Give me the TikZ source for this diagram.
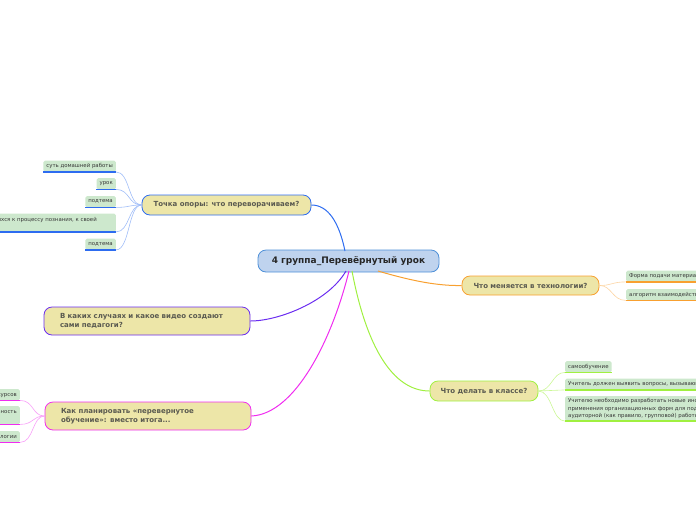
\documentclass[tikz,border=0pt]{standalone}
\usepackage{fontspec}
\setmainfont{DejaVu Sans}
\definecolor{rootf}{HTML}{BFD3EE}
\definecolor{rootb}{HTML}{4E90D8}
\definecolor{brf}{HTML}{EDE6A8}
\definecolor{brt}{HTML}{5A5A50}
\definecolor{leaff}{HTML}{CDE8CD}
\definecolor{cblue}{HTML}{2D6CF0}
\definecolor{cviolet}{HTML}{6A2CF0}
\definecolor{cmag}{HTML}{F02CF0}
\definecolor{corange}{HTML}{F8A030}
\definecolor{cgreen}{HTML}{A0F040}
\begin{document}
\begin{tikzpicture}[x=1pt,y=-1pt,
  root/.style={draw=rootb, fill=rootf, line width=0.8pt, rounded corners=8pt,
    minimum width=181pt, minimum height=22pt, inner sep=0pt,
    font=\fontsize{9}{10}\selectfont\bfseries, text=black!85},
  branch/.style={fill=brf, line width=0.8pt, rounded corners=8pt, inner sep=0pt,
    font=\fontsize{7}{9}\selectfont\bfseries, text=brt},
  leaf/.style={fill=leaff, rounded corners=1.5pt, font=\fontsize{5.4}{7.2}\selectfont,
    text=black!78, inner xsep=3pt, inner ysep=2.5pt, minimum height=11pt, align=left},
  uline/.style={line width=1.6pt},
  twig/.style={line width=0.6pt},
  limb/.style={line width=1pt}
]
\useasboundingbox (0,0) rectangle (696,520);
\clip (0,0) rectangle (696,520);

% root
\node[root] (c) at (348.5,261) {4 группа\_Перевёрнутый урок};

% branches
\node[branch, draw=cblue, minimum width=169pt, minimum height=20pt] (t) at (226.5,205) {Точка опоры: что переворачиваем?};
\node[branch, draw=cviolet, text width=174pt, inner xsep=16pt, minimum height=28pt, align=left] (v) at (147,321) {В каких случаях и какое видео создают\\сами педагоги?};
\node[branch, draw=cmag, text width=174pt, inner xsep=16pt, minimum height=28pt, align=left] (k) at (148,416) {Как планировать «перевернутое\\обучение»: вместо итога...};
\node[branch, draw=corange, minimum width=137pt, minimum height=19pt] (m) at (530.5,285.5) {Что меняется в технологии?};
\node[branch, draw=cgreen, minimum width=108pt, minimum height=20pt] (d) at (484,391) {Что делать в классе?};

% root connectors
\coordinate (s1) at (345,251);
\coordinate (s2) at (346,271);
\coordinate (s3) at (349,271);
\coordinate (s4) at (352,271);
\coordinate (s5) at (378,271);
\draw[limb, cblue] (s1) .. controls (339,222) and (328,205) .. (t.east);
\draw[limb, cviolet] (s2) .. controls (328,302) and (278,321) .. (v.east);
\draw[limb, cmag] (s3) .. controls (332,340) and (295,414) .. (k.east);
\draw[limb, cgreen] (s4) .. controls (366,345) and (392,391) .. (d.west);
\draw[limb, corange] (s5) .. controls (412,281) and (438,286) .. (m.west);

% left leaves of t
\node[leaf, anchor=north east] (t1) at (116,160.5) {суть домашней работы};
\node[leaf, anchor=north east] (t2) at (116,178) {урок};
\node[leaf, anchor=north east] (t3) at (116,196) {подтема};
\node[leaf, anchor=north east, minimum height=18pt] (t4) at (116,213.5) {учащихся к процессу познания, к своей\hspace*{16pt}\\\mbox{}};
\node[leaf, anchor=north east] (t5) at (116,238.5) {подтема};
\foreach \n in {t1,t2,t3,t4,t5}{
  \draw[uline, cblue] (\n.south west) -- (\n.south east);
  \draw[twig, cblue!45] (t.west) .. controls (128,205) and (130,0|-\n.south east) .. (\n.south east);
}

% left leaves of k
\node[leaf, anchor=north east] (k1) at (20,389) {Отбор ресурсов};
\node[leaf, anchor=north east, minimum height=18pt] (k2) at (20,406) {Самостоятельность\\\mbox{}};
\node[leaf, anchor=north east] (k3) at (20,431) {технологии};
\foreach \n in {k1,k2,k3}{
  \draw[uline, cmag] (\n.south west) -- (\n.south east);
  \draw[twig, cmag!45] (k.west) .. controls (32,416) and (34,0|-\n.south east) .. (\n.south east);
}

% right leaves of m
\node[leaf, anchor=north west] (m1) at (626,270.5) {Форма подачи материала};
\node[leaf, anchor=north west] (m2) at (626,289) {алгоритм взаимодействия};
\foreach \n in {m1,m2}{
  \draw[uline, corange] (\n.south west) -- (\n.south east);
  \draw[twig, corange!45] (m.east) .. controls (612,285.5) and (612,0|-\n.south west) .. (\n.south west);
}

% right leaves of d
\node[leaf, anchor=north west] (d1) at (565,361) {самообучение};
\node[leaf, anchor=north west] (d2) at (565,378.5) {Учитель должен выявить вопросы, вызывающие трудности};
\node[leaf, anchor=north west] (d3) at (565,396) {Учителю необходимо разработать новые инструменты\\применения организационных форм для поддержки\\аудиторной (как правило, групповой) работы};
\foreach \n in {d1,d2,d3}{
  \draw[uline, cgreen] (\n.south west) -- (\n.south east);
  \draw[twig, cgreen!55] (d.east) .. controls (552,391) and (552,0|-\n.south west) .. (\n.south west);
}
\end{tikzpicture}
\end{document}
